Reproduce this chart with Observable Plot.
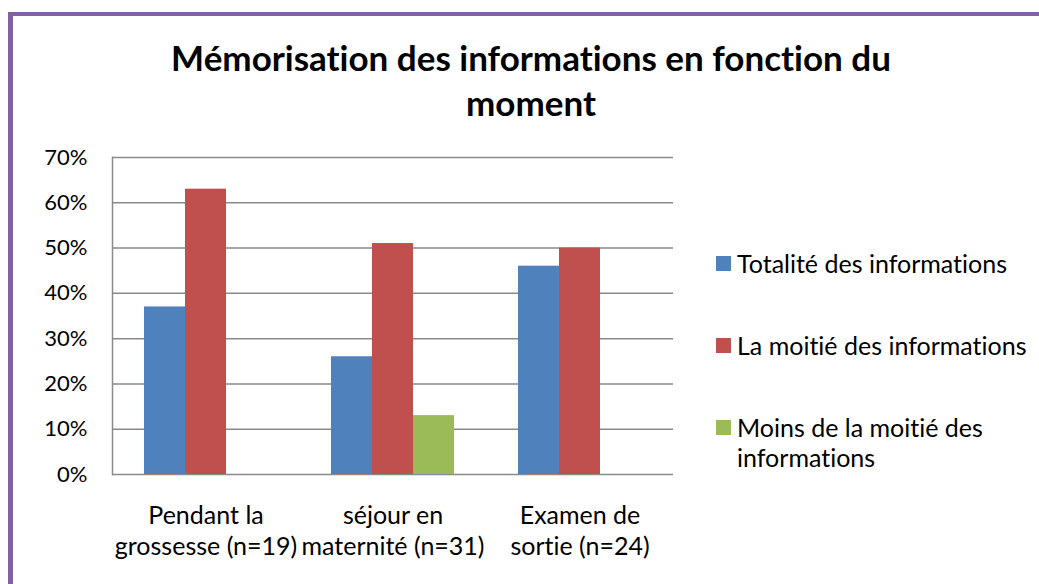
<!DOCTYPE html>
<html><head><meta charset="utf-8">
<script src="https://cdn.jsdelivr.net/npm/d3@7"></script>
<script src="https://cdn.jsdelivr.net/npm/@observablehq/plot@0.6"></script>
<style>
body{margin:0;background:#fff;font-family:Lato,sans-serif;color:#000;font-variant-ligatures:none;}
#wrap{position:relative;width:1039px;height:584px;overflow:hidden;background:#fff;}
#border{position:absolute;left:8px;top:12px;width:2000px;height:2000px;border-left:5px solid #8064A2;border-top:4px solid #8064A2;box-sizing:border-box;}
#title{position:absolute;left:0;width:1062px;top:35px;text-align:center;font-weight:bold;font-size:35px;line-height:45px;}
#chart{position:absolute;left:0;top:0;}
#chart text{font-variant-ligatures:none;}
.leg{position:absolute;left:716px;font-size:25px;line-height:30px;}
.sw{position:absolute;left:0;top:8px;width:15px;height:15px;}
.lt{position:absolute;left:21px;top:0;white-space:nowrap;}
</style></head>
<body><div id="wrap"><div id="border"></div><div id="chart"></div><div id="title">Mémorisation des informations en fonction du<br>moment</div><div id="legend"></div></div>
<script>
const categories = ["Pendant la\ngrossesse (n=19)", "séjour en\nmaternité (n=31)", "Examen de\nsortie (n=24)"];
const series = ["Totalité des informations", "La moitié des informations", "Moins de la moitié des informations"];
const totalite = [0.37, 0.26, 0.46];
const moitie = [0.63, 0.51, 0.50];
const moins = [0, 0.13, 0];
const colors = ["#4F81BD", "#C0504D", "#9BBB59"];
const yTicks = [0, 0.1, 0.2, 0.3, 0.4, 0.5, 0.6, 0.7];
const legendLines = [["Totalité des informations"], ["La moitié des informations"], ["Moins de la moitié des", "informations"]];

const valuesBySeries = [totalite, moitie, moins];
const data = categories.flatMap((c, i) => series.map((s, j) => ({cat: c, s, v: valuesBySeries[j][i]}))).filter(d => d.v > 0);

const chart = Plot.plot({
  width: 1039, height: 584,
  marginLeft: 111, marginRight: 366, marginTop: 157, marginBottom: 110,
  fx: {domain: categories, padding: 0, label: null},
  x: {domain: series, paddingInner: 0, paddingOuter: 0.75, axis: null},
  y: {domain: [0, 0.7], label: null},
  color: {domain: series, range: colors},
  style: {fontFamily: "Lato, sans-serif", fontSize: "21px", color: "#000", background: "transparent"},
  marks: [
    Plot.gridY(yTicks, {stroke: "#8a8a8a", strokeOpacity: 1, strokeWidth: 1.5}),
    Plot.barY(data, {fx: "cat", x: "s", y: "v", fill: "s"}),
    Plot.frame({anchor: "left", facetAnchor: "left", stroke: "#8a8a8a", strokeWidth: 1.5}),
    Plot.axisY(yTicks, {anchor: "left", tickSize: 0, tickPadding: 25, tickFormat: d3.format(".0%"), label: null, fontSize: 22}),
    Plot.axisFx({anchor: "bottom", tickSize: 0, tickPadding: 27, lineHeight: 1.24, fontSize: 25, label: null})
  ]
});
document.getElementById("chart").appendChild(chart);

const tops = [248, 330, 412];
const legend = document.getElementById("legend");
series.forEach((s, i) => {
  const div = document.createElement("div");
  div.className = "leg";
  div.style.top = tops[i] + "px";
  div.innerHTML = `<div class="sw" style="background:${colors[i]}"></div><div class="lt">${legendLines[i].join("<br>")}</div>`;
  legend.appendChild(div);
});
</script>
</body></html>
